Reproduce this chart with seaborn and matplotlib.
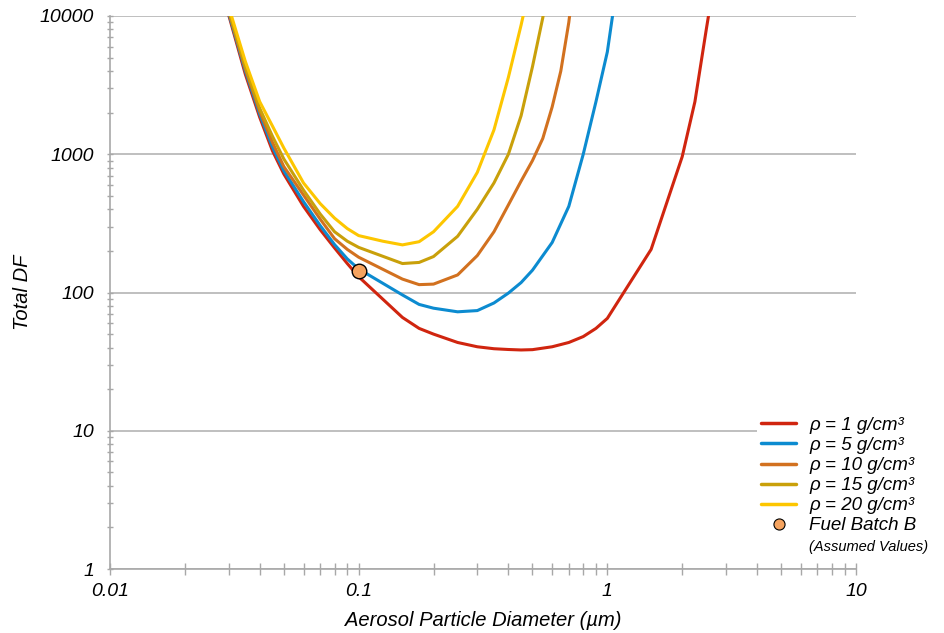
import numpy as np
import pandas as pd
import matplotlib
matplotlib.use('Agg')
import matplotlib.pyplot as plt
import seaborn as sns
from matplotlib.lines import Line2D
from matplotlib.ticker import LogLocator, NullFormatter

# aerosol particle diameter (um) and total DF for each particle density
diam_1 = [0.03, 0.035, 0.04, 0.045, 0.05, 0.06, 0.07, 0.08, 0.09, 0.1, 0.15, 0.175, 0.2, 0.25, 0.3,
          0.35, 0.4, 0.45, 0.5, 0.6, 0.7, 0.8, 0.9, 1.0, 1.5, 2.0, 2.25, 2.5, 3.0]
df_1 = [10200, 3800, 1850, 1060, 720, 420, 285, 210, 162, 130, 66, 55, 50, 43.5, 40.5,
        39.2, 38.7, 38.4, 38.6, 40.5, 43.5, 48, 55, 65, 205, 960, 2400, 8000, 60000]

diam_5 = [0.03, 0.035, 0.04, 0.045, 0.05, 0.06, 0.07, 0.08, 0.09, 0.1, 0.15, 0.175, 0.2, 0.25, 0.3,
          0.35, 0.4, 0.45, 0.5, 0.6, 0.7, 0.8, 0.9, 1.0, 1.1]
df_5 = [10500, 4000, 1950, 1130, 760, 454, 305, 222, 175, 148, 96, 82, 77, 72.5, 74,
        84, 99, 118, 145, 230, 420, 1000, 2400, 5500, 18000]

diam_10 = [0.03, 0.035, 0.04, 0.045, 0.05, 0.06, 0.07, 0.08, 0.09, 0.1, 0.15, 0.175, 0.2, 0.25, 0.3,
           0.35, 0.4, 0.45, 0.5, 0.55, 0.6, 0.65, 0.7, 0.75]
df_10 = [10800, 4150, 2050, 1220, 815, 507, 340, 245, 205, 180, 125, 114, 115, 134, 185,
         275, 430, 640, 900, 1300, 2200, 4000, 9000, 25000]

diam_15 = [0.03, 0.035, 0.04, 0.045, 0.05, 0.06, 0.07, 0.08, 0.09, 0.1, 0.15, 0.175, 0.2, 0.25, 0.3,
           0.35, 0.4, 0.45, 0.5, 0.55, 0.6]
df_15 = [11000, 4300, 2150, 1350, 925, 550, 370, 275, 235, 212, 162, 165, 182, 255, 400,
         620, 1000, 1900, 4300, 9700, 25000]

diam_20 = [0.03, 0.035, 0.04, 0.045, 0.05, 0.06, 0.07, 0.08, 0.09, 0.1, 0.125, 0.15, 0.175, 0.2, 0.25,
           0.3, 0.35, 0.4, 0.45, 0.5]
df_20 = [11700, 4700, 2400, 1600, 1110, 620, 440, 345, 290, 258, 235, 221, 233, 275, 420,
         740, 1500, 3600, 8600, 20000]

labels = ['ρ = 1 g/cm³', 'ρ = 5 g/cm³', 'ρ = 10 g/cm³', 'ρ = 15 g/cm³', 'ρ = 20 g/cm³']
colors = ['#d0250f', '#0c8bd0', '#d2711f', '#c9a00a', '#fdc600']

# Fuel Batch B (assumed values)
batch_x = [0.1]
batch_y = [143]

frames = []
for lab, xs, ys in zip(labels, [diam_1, diam_5, diam_10, diam_15, diam_20],
                       [df_1, df_5, df_10, df_15, df_20]):
    frames.append(pd.DataFrame({'diameter': xs, 'DF': ys, 'density': lab}))
data = pd.concat(frames, ignore_index=True)

sns.set_style('white')
plt.rcParams['font.family'] = ['Liberation Sans', 'DejaVu Sans']
plt.rcParams['text.color'] = 'black'
plt.rcParams['axes.labelcolor'] = 'black'
plt.rcParams['xtick.labelcolor'] = 'black'
plt.rcParams['ytick.labelcolor'] = 'black'

fig = plt.figure(figsize=(9.45, 6.33), dpi=100)
ax = fig.add_axes([110 / 945, 1 - 569 / 633, 746 / 945, 553 / 633])

sns.lineplot(data=data, x='diameter', y='DF', hue='density', hue_order=labels,
             palette=colors, linewidth=2.2, sort=False, legend=False, ax=ax)
sns.scatterplot(x=batch_x, y=batch_y, color='#f5a35f', edgecolor='black', linewidth=1,
                s=110, zorder=5, ax=ax)

ax.set_xscale('log')
ax.set_yscale('log')
ax.set_xlim(0.01, 10)
ax.set_ylim(1, 10000)

ax.set_xticks([0.01, 0.1, 1, 10], ['0.01', '0.1', '1', '10'])
ax.set_yticks([1, 10, 100, 1000, 10000], ['1', '10', '100', '1000', '10000'])
ax.xaxis.set_minor_locator(LogLocator(base=10, subs=np.arange(2, 10)))
ax.yaxis.set_minor_locator(LogLocator(base=10, subs=np.arange(2, 10)))
ax.xaxis.set_minor_formatter(NullFormatter())
ax.yaxis.set_minor_formatter(NullFormatter())

ax.grid(axis='y', which='major', color='#b4b4b4', linewidth=1.2)
ax.grid(axis='x', visible=False)
for side in ['top', 'right']:
    ax.spines[side].set_visible(False)
for side in ['left', 'bottom']:
    ax.spines[side].set_color('#a8a8a8')
    ax.spines[side].set_linewidth(1.2)

ax.tick_params(axis='x', which='both', direction='inout', length=8, width=1, color='#a8a8a8',
               bottom=True, pad=6)
ax.tick_params(axis='y', which='both', direction='inout', length=5, width=1, color='#a8a8a8',
               left=True, pad=9)
for t in ax.get_xticklabels() + ax.get_yticklabels():
    t.set_fontstyle('italic')
    t.set_fontsize(14)
    t.set_color('black')

label_font = dict(style='italic', size=14.5, color='black')
ax.set_xlabel('Aerosol Particle Diameter (µm)', labelpad=8, **label_font)
ax.set_ylabel('Total DF', **label_font)
ax.yaxis.set_label_coords(-0.105, 0.5)

handles = [Line2D([], [], color=c, linewidth=2.5) for c in colors]
handles.append(Line2D([], [], linestyle='none', marker='o', markersize=8,
                      markerfacecolor='#f5a35f', markeredgecolor='black', markeredgewidth=0.8))
handles.append(Line2D([], [], linestyle='none'))
leg_labels = labels + ['Fuel Batch B', '(Assumed Values)']
leg = ax.legend(handles, leg_labels, loc='upper left',
                bbox_to_anchor=(757 / 945, 1 - 413 / 633), bbox_transform=fig.transFigure,
                frameon=True, facecolor='white', edgecolor='none', framealpha=1,
                prop={'style': 'italic', 'size': 13.5}, handlelength=1.9, handletextpad=0.7,
                labelspacing=0.16, borderpad=0.2, borderaxespad=0)
for t in leg.get_texts():
    t.set_color('black')
leg.get_texts()[-1].set_fontsize(10.5)

fig.savefig('out.png', dpi=100)
